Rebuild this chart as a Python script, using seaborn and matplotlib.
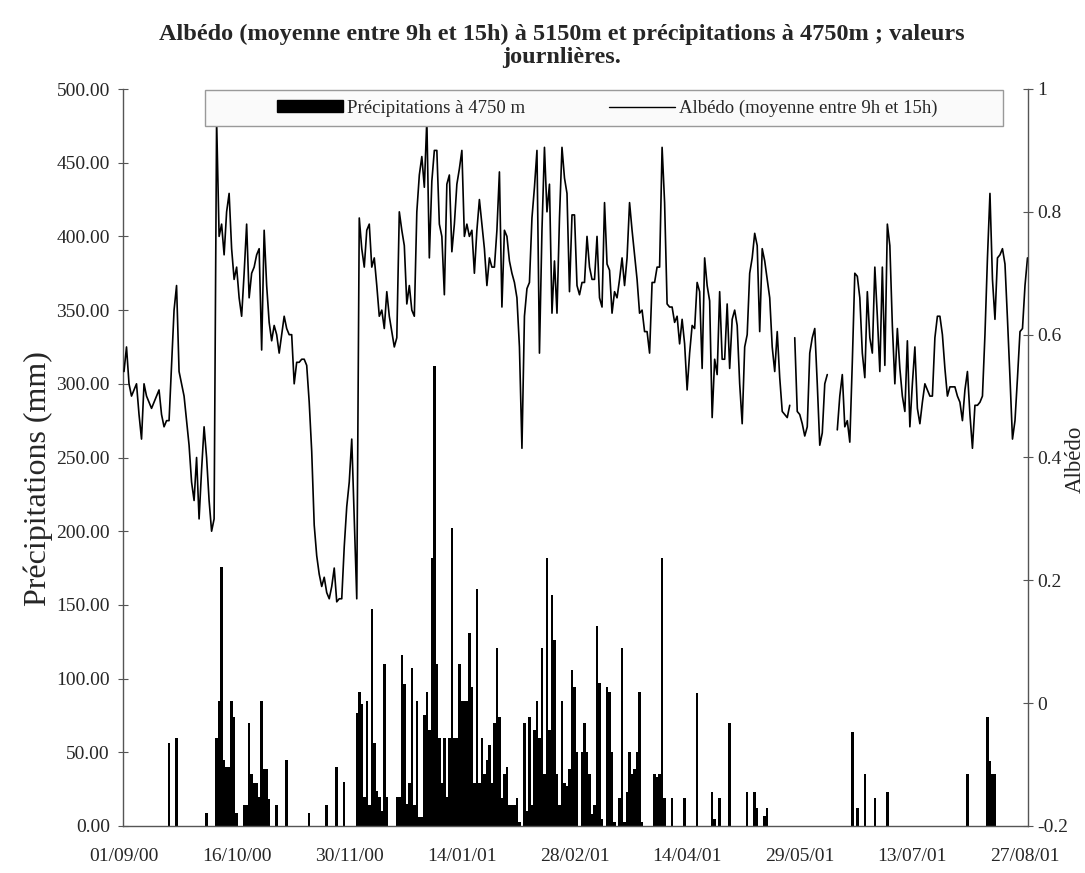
import numpy as np
import pandas as pd
import matplotlib
matplotlib.use("Agg")
import matplotlib.pyplot as plt
import seaborn as sns
from matplotlib.patches import Patch, Rectangle
from matplotlib.lines import Line2D

nan = np.nan

# Daily albedo (mean 9h-15h) at 5150 m, day 0 = 01/09/00
albedo = [
    0.54, 0.58, 0.52, 0.50, 0.51, 0.52, 0.47, 0.43, 0.52, 0.50,
    0.49, 0.48, 0.49, 0.50, 0.51, 0.47, 0.45, 0.46, 0.46, 0.55,
    0.64, 0.68, 0.54, 0.52, 0.50, 0.46, 0.42, 0.36, 0.33, 0.40,
    0.30, 0.38, 0.45, 0.40, 0.33, 0.28, 0.30, 0.95, 0.76, 0.78,
    0.73, 0.80, 0.83, 0.74, 0.69, 0.71, 0.66, 0.63, 0.70, 0.78,
    0.66, 0.70, 0.71, 0.73, 0.74, 0.575, 0.77, 0.68, 0.62, 0.59,
    0.615, 0.60, 0.57, 0.60, 0.63, 0.61, 0.60, 0.60, 0.52, 0.555,
    0.555, 0.56, 0.56, 0.55, 0.49, 0.41, 0.29, 0.24, 0.21, 0.19,
    0.205, 0.18, 0.17, 0.19, 0.22, 0.165, 0.17, 0.17, 0.255, 0.32,
    0.36, 0.43, 0.30, 0.17, 0.79, 0.74, 0.71, 0.77, 0.78, 0.71,
    0.725, 0.68, 0.63, 0.64, 0.61, 0.67, 0.63, 0.605, 0.58, 0.595,
    0.80, 0.77, 0.745, 0.65, 0.68, 0.64, 0.63, 0.80, 0.86, 0.89,
    0.84, 0.95, 0.725, 0.85, 0.90, 0.90, 0.78, 0.76, 0.665, 0.845,
    0.86, 0.735, 0.78, 0.845, 0.87, 0.90, 0.76, 0.78, 0.76, 0.77,
    0.70, 0.77, 0.82, 0.78, 0.74, 0.68, 0.725, 0.71, 0.71, 0.77,
    0.865, 0.645, 0.77, 0.76, 0.72, 0.70, 0.685, 0.66, 0.58, 0.415,
    0.63, 0.675, 0.685, 0.79, 0.84, 0.90, 0.57, 0.77, 0.905, 0.80,
    0.845, 0.635, 0.72, 0.635, 0.79, 0.905, 0.855, 0.83, 0.67, 0.795,
    0.795, 0.68, 0.665, 0.685, 0.685, 0.76, 0.71, 0.69, 0.69, 0.76,
    0.66, 0.645, 0.815, 0.715, 0.705, 0.635, 0.67, 0.66, 0.69, 0.725,
    0.68, 0.725, 0.815, 0.77, 0.73, 0.69, 0.635, 0.64, 0.605, 0.605,
    0.57, 0.685, 0.685, 0.71, 0.71, 0.905, 0.815, 0.65, 0.645, 0.645,
    0.62, 0.63, 0.585, 0.625, 0.585, 0.51, 0.57, 0.615, 0.61, 0.685,
    0.67, 0.545, 0.725, 0.68, 0.655, 0.465, 0.56, 0.535, 0.67, 0.56,
    0.56, 0.65, 0.545, 0.625, 0.64, 0.615, 0.52, 0.455, 0.58, 0.60,
    0.70, 0.725, 0.765, 0.745, 0.605, 0.74, 0.72, 0.69, 0.66, 0.58,
    0.54, 0.605, 0.53, 0.475, 0.47, 0.465, 0.485, nan, 0.595, 0.475,
    0.47, 0.455, 0.435, 0.45, 0.57, 0.595, 0.61, 0.52, 0.42, 0.44,
    0.52, 0.535, nan, nan, nan, 0.445, 0.50, 0.535, 0.45, 0.46,
    0.425, 0.555, 0.70, 0.695, 0.66, 0.57, 0.53, 0.67, 0.595, 0.57,
    0.71, 0.63, 0.54, 0.71, 0.55, 0.78, 0.745, 0.615, 0.52, 0.61,
    0.545, 0.50, 0.475, 0.59, 0.45, 0.52, 0.58, 0.48, 0.455, 0.49,
    0.52, 0.51, 0.50, 0.50, 0.595, 0.63, 0.63, 0.60, 0.545, 0.50,
    0.515, 0.515, 0.515, 0.50, 0.49, 0.46, 0.51, 0.54, 0.47, 0.415,
    0.485, 0.485, 0.49, 0.50, 0.60, 0.725, 0.83, 0.69, 0.625, 0.725,
    0.73, 0.74, 0.715, 0.625, 0.53, 0.43, 0.46, 0.53, 0.605, 0.61,
    0.68, 0.725,
]

# Daily precipitation at 4750 m (only rainy days), day 0 = 01/09/00
rain_day = [
    18, 21, 33, 37, 38, 39, 40, 41, 42, 43, 44, 45, 48, 49, 50, 51, 52, 53, 54, 55,
    56, 57, 58, 61, 65, 74, 81, 85, 88, 93, 94, 95, 96, 97, 98, 99, 100, 101, 102, 103,
    104, 105, 109, 110, 111, 112, 113, 114, 115, 116, 117, 118, 119, 120, 121, 122, 123, 124, 125, 126,
    127, 128, 129, 130, 131, 132, 133, 134, 135, 136, 137, 138, 139, 140, 141, 142, 143, 144, 145, 146,
    147, 148, 149, 150, 151, 152, 153, 154, 155, 156, 157, 158, 160, 161, 162, 163, 164, 165, 166, 167,
    168, 169, 170, 171, 172, 173, 174, 175, 176, 177, 178, 179, 180, 181, 183, 184, 185, 186, 187, 188,
    189, 190, 191, 193, 194, 195, 196, 198, 199, 200, 201, 202, 203, 204, 205, 206, 207, 212, 213, 214,
    215, 216, 219, 224, 229, 235, 236, 238, 242, 249, 252, 253, 256, 257, 291, 293, 296, 300, 305, 337,
    345, 346, 347, 348,
]
rain_mm = [
    56, 60, 9, 60, 85, 176, 45, 40, 40, 85, 74, 9, 14, 14, 70, 35, 29, 29, 20, 85,
    39, 39, 18, 14, 45, 9, 14, 40, 30, 77, 91, 83, 20, 85, 14, 147, 56, 24, 20, 10,
    110, 20, 20, 20, 116, 96, 15, 29, 107, 14, 85, 6, 6, 75, 91, 65, 182, 312, 110, 60,
    29, 60, 20, 60, 202, 60, 60, 110, 85, 85, 85, 131, 94, 29, 161, 29, 60, 35, 45, 55,
    29, 70, 121, 74, 19, 35, 40, 14, 14, 14, 19, 3, 70, 10, 74, 14, 65, 85, 60, 121,
    35, 182, 65, 157, 126, 35, 14, 85, 29, 27, 39, 106, 94, 50, 50, 70, 50, 35, 8, 14,
    136, 97, 5, 94, 91, 50, 3, 19, 121, 3, 23, 50, 35, 39, 50, 91, 3, 35, 33, 35,
    182, 19, 19, 19, 90, 23, 5, 19, 70, 23, 23, 12, 7, 12, 64, 12, 35, 19, 23, 35,
    74, 44, 35, 35,
]

date_labels = ["01/09/00", "16/10/00", "30/11/00", "14/01/01", "28/02/01",
               "14/04/01", "29/05/01", "13/07/01", "27/08/01"]
tick_step_days = 45
precip_ticks = [0, 50, 100, 150, 200, 250, 300, 350, 400, 450, 500]
albedo_ticks = [-0.2, 0, 0.2, 0.4, 0.6, 0.8, 1.0]
albedo_tick_labels = ["-0.2", "0", "0.2", "0.4", "0.6", "0.8", "1"]

title = ("Albédo (moyenne entre 9h et 15h) à 5150m et précipitations à 4750m ; valeurs\n"
         "journlières.")
label_rain = "Précipitations à 4750 m"
label_alb = "Albédo (moyenne entre 9h et 15h)"

sns.set_theme(style="white")
plt.rcParams["font.family"] = ["Liberation Serif", "DejaVu Serif"]

W, H = 1085, 873
fig = plt.figure(figsize=(W / 100, H / 100), dpi=100)
ax = fig.add_axes([123 / W, 1 - 826 / H, 905 / W, 737 / H])

df_rain = pd.DataFrame({"day": np.asarray(rain_day, dtype=float),
                        "mm": np.asarray(rain_mm, dtype=float)})
sns.histplot(data=df_rain, x="day", weights="mm",
             binwidth=1, binrange=(-0.5, len(albedo) - 0.5),
             color="black", alpha=1, edgecolor="none", linewidth=0,
             shrink=1.0, ax=ax)

ax2 = ax.twinx()
df_alb = pd.DataFrame({"day": np.arange(len(albedo)), "albedo": albedo})
df_alb["seg"] = df_alb["albedo"].isna().cumsum()
df_alb = df_alb.dropna()
sns.lineplot(data=df_alb, x="day", y="albedo", units="seg", estimator=None,
             color="black", linewidth=1.2, ax=ax2, legend=False)

ax.set_xlim(-0.4, len(albedo) - 0.8)
ax.set_ylim(0, 500)
ax2.set_ylim(-0.2, 1.0)

ax.set_xticks(np.arange(len(date_labels)) * tick_step_days)
ax.set_xticklabels(date_labels)
ax.set_yticks(precip_ticks)
ax.set_yticklabels([f"{v:.2f}" for v in precip_ticks])
ax2.set_yticks(albedo_ticks)
ax2.set_yticklabels(albedo_tick_labels)

ax.set_xlabel("")
ax.set_ylabel("")
ax2.set_xlabel("")
ax2.set_ylabel("")

for a in (ax, ax2):
    a.grid(False)
    a.spines["top"].set_visible(False)
ax.spines["right"].set_visible(False)
ax2.spines["left"].set_visible(False)
ax2.spines["bottom"].set_visible(False)
for s in ("left", "bottom"):
    ax.spines[s].set_color("#555555")
    ax.spines[s].set_linewidth(1.0)
ax2.spines["right"].set_color("#555555")
ax2.spines["right"].set_linewidth(1.0)

ax.tick_params(axis="y", direction="inout", length=7, width=0.8, color="#555555",
               labelsize=14, pad=6, left=True)
ax.tick_params(axis="x", length=0, labelsize=14, pad=16, bottom=True)
ax2.tick_params(axis="y", direction="inout", length=7, width=0.8, color="#555555",
                labelsize=14, pad=3, right=True)

fig.text(0.518, 1 - 46 / H, title, ha="center", va="center",
         fontsize=17.5, fontweight="bold", linespacing=1.15)
fig.text(38 / W, 1 - 479 / H, "Précipitations (mm)", rotation=90,
         ha="center", va="center", fontsize=23)
fig.text(1075 / W, 1 - 459 / H, "Albédo", rotation=90,
         ha="center", va="center", fontsize=16.5)

frame = Rectangle((0.0906, 0.950), 0.882, 0.049, transform=ax2.transAxes,
                  facecolor="#fafafa", edgecolor="#999999", linewidth=1.0,
                  zorder=4, clip_on=False)
ax2.add_patch(frame)
handles = [Patch(facecolor="black", edgecolor="black"),
           Line2D([0], [0], color="black", linewidth=1.0)]
leg = ax2.legend(handles=handles, labels=[label_rain, label_alb], ncol=2,
                 loc="center", bbox_to_anchor=(0.535, 0.974), frameon=False,
                 fontsize=13.5, handlelength=3.5, handletextpad=0.2,
                 columnspacing=4.5, handleheight=0.55)
leg.set_zorder(5)

fig.savefig("out.png", dpi=100)
